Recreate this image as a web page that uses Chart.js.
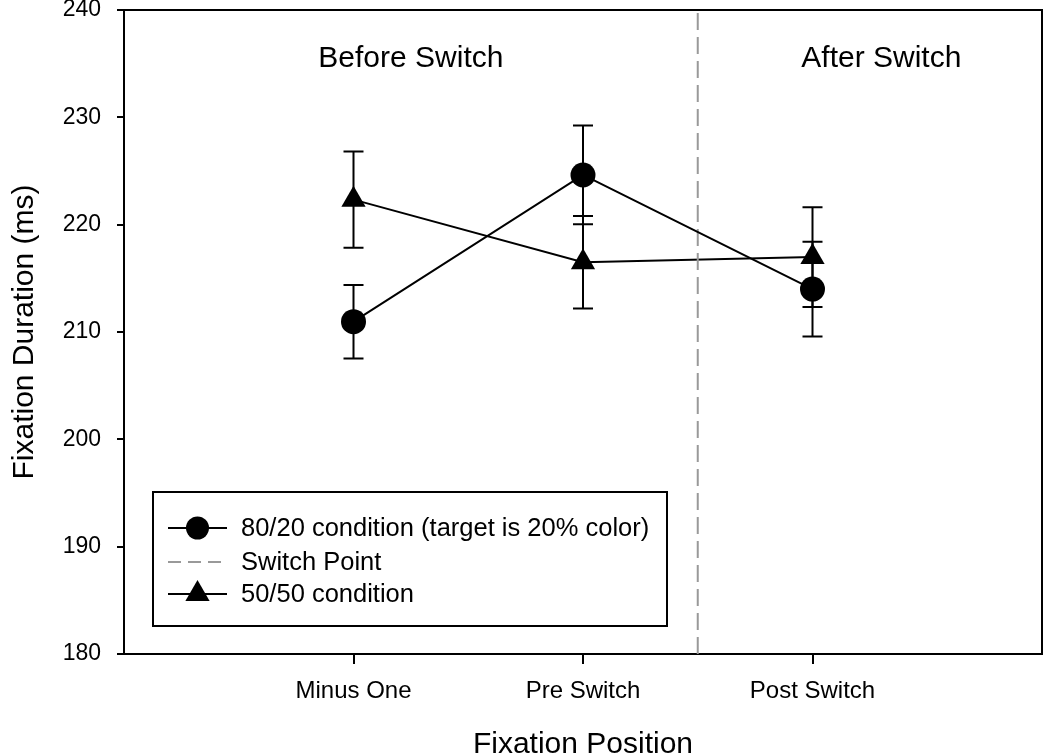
<!DOCTYPE html>
<html>
<head>
<meta charset="utf-8">
<script src="https://cdn.jsdelivr.net/npm/chart.js@4"></script>
<style>
html,body{margin:0;padding:0;background:#fff;}
#c{display:block;}
</style>
</head>
<body>
<canvas id="c" width="1050" height="756"></canvas>
<script>
// ---- data ----
const categories = ["Minus One", "Pre Switch", "Post Switch"];
const categoryX = [1, 2, 3];
const series8020 = [210.96, 224.63, 214.0];
const err8020 = [3.43, 4.6, 4.41];
const series5050 = [222.33, 216.5, 216.98];
const err5050 = [4.48, 4.3, 4.64];
const switchX = 2.5;
const yTicks = [180, 190, 200, 210, 220, 230, 240];
const sectionLabels = ["Before Switch", "After Switch"];
const sectionX = [1.25, 3.3];
const sectionY = 235.5;
const legendLabels = ["80/20 condition (target is 20% color)", "Switch Point", "50/50 condition"];

const FONT = "'Liberation Sans', Arial, Helvetica, sans-serif";

const pts = (ys) => ys.map((v, i) => ({x: categoryX[i], y: v}));

const errorBarPlugin = {
  id: 'errorBars',
  afterDatasetsDraw(chart) {
    const {ctx, scales} = chart;
    const xs = scales.x, ys = scales.y;
    ctx.save();
    ctx.strokeStyle = '#000';
    ctx.lineWidth = 2;
    const cap = 10;
    [[series8020, err8020], [series5050, err5050]].forEach(([vals, errs]) => {
      vals.forEach((v, i) => {
        const px = xs.getPixelForValue(categoryX[i]);
        const top = ys.getPixelForValue(v + errs[i]);
        const bot = ys.getPixelForValue(v - errs[i]);
        ctx.beginPath();
        ctx.moveTo(px, top); ctx.lineTo(px, bot);
        ctx.moveTo(px - cap, top); ctx.lineTo(px + cap, top);
        ctx.moveTo(px - cap, bot); ctx.lineTo(px + cap, bot);
        ctx.stroke();
      });
    });
    ctx.restore();
  }
};

const framePlugin = {
  id: 'frame',
  afterDraw(chart) {
    const {ctx, chartArea: a} = chart;
    ctx.save();
    ctx.strokeStyle = '#000';
    ctx.lineWidth = 2;
    ctx.beginPath();
    ctx.moveTo(a.left, a.top); ctx.lineTo(a.right, a.top); ctx.lineTo(a.right, a.bottom);
    ctx.stroke();
    ctx.restore();
  }
};

const sectionPlugin = {
  id: 'sections',
  afterDraw(chart) {
    const {ctx, scales} = chart;
    ctx.save();
    ctx.fillStyle = '#000';
    ctx.font = "30px " + FONT;
    ctx.textAlign = 'center';
    ctx.textBaseline = 'middle';
    sectionLabels.forEach((t, i) => {
      ctx.fillText(t, scales.x.getPixelForValue(sectionX[i]), scales.y.getPixelForValue(sectionY));
    });
    ctx.restore();
  }
};

const legendPlugin = {
  id: 'boxLegend',
  afterDraw(chart) {
    const {ctx, chartArea: a} = chart;
    const bx = a.left + 29, by = a.bottom - 162, bw = 514, bh = 134;
    ctx.save();
    ctx.fillStyle = '#fff';
    ctx.fillRect(bx, by, bw, bh);
    ctx.strokeStyle = '#000';
    ctx.lineWidth = 2;
    ctx.strokeRect(bx, by, bw, bh);
    const rows = [by + 36, by + 70, by + 102];
    const lx0 = bx + 15, lx1 = bx + 74, mx = (lx0 + lx1) / 2;
    ctx.font = "25.5px " + FONT;
    ctx.textBaseline = 'middle';
    ctx.textAlign = 'left';
    legendLabels.forEach((t, i) => {
      const y = rows[i];
      ctx.beginPath();
      if (i === 1) {
        ctx.strokeStyle = '#999';
        ctx.setLineDash([13, 7]);
      } else {
        ctx.strokeStyle = '#000';
        ctx.setLineDash([]);
      }
      ctx.lineWidth = 2;
      ctx.moveTo(lx0, y); ctx.lineTo(lx1, y);
      ctx.stroke();
      ctx.setLineDash([]);
      ctx.fillStyle = '#000';
      if (i === 0) {
        ctx.beginPath(); ctx.arc(mx, y, 11.5, 0, Math.PI * 2); ctx.fill();
      } else if (i === 2) {
        const r = 14;
        ctx.beginPath();
        ctx.moveTo(mx, y - r);
        ctx.lineTo(mx + r * Math.sin(2 * Math.PI / 3), y + r / 2);
        ctx.lineTo(mx - r * Math.sin(2 * Math.PI / 3), y + r / 2);
        ctx.closePath(); ctx.fill();
      }
      ctx.fillText(t, bx + 88, y + 1);
    });
    ctx.restore();
  }
};

function zeroPad(s) {
  s.paddingTop = 0; s.paddingBottom = 0; s.paddingLeft = 0; s.paddingRight = 0;
}

new Chart(document.getElementById('c'), {
  type: 'line',
  data: {
    datasets: [
      {
        label: legendLabels[0],
        data: pts(series8020),
        borderColor: '#000', backgroundColor: '#000',
        borderWidth: 2, pointStyle: 'circle', pointRadius: 12.5,
        pointBorderWidth: 0, pointHoverRadius: 12.5, tension: 0
      },
      {
        label: legendLabels[1],
        data: [{x: switchX, y: yTicks[0]}, {x: switchX, y: yTicks[yTicks.length - 1]}],
        borderColor: '#999', borderWidth: 2, borderDash: [17, 7],
        pointRadius: 0, pointHoverRadius: 0
      },
      {
        label: legendLabels[2],
        data: pts(series5050),
        borderColor: '#000', backgroundColor: '#000',
        borderWidth: 2, pointStyle: 'triangle', pointRadius: 14,
        pointBorderWidth: 0, pointHoverRadius: 14, tension: 0
      }
    ]
  },
  options: {
    responsive: false,
    animation: false,
    events: [],
    layout: {autoPadding: false, padding: {top: 10, right: 8, left: 0, bottom: 0}},
    plugins: {legend: {display: false}, tooltip: {enabled: false}},
    scales: {
      x: {
        type: 'linear', min: 0, max: 4,
        afterBuildTicks(s) { s.ticks = categoryX.map(v => ({value: v})); },
        afterFit(s) { s.height = 102; zeroPad(s); },
        ticks: {
          callback: (v) => { const i = categoryX.indexOf(v); return i >= 0 ? categories[i] : ''; },
          color: '#000', font: {family: FONT, size: 24}, padding: 13, maxRotation: 0, autoSkip: false
        },
        grid: {drawOnChartArea: false, drawTicks: true, tickLength: 10, color: '#000', lineWidth: 2},
        border: {display: true, color: '#000', width: 2},
        title: {display: true, text: 'Fixation Position', color: '#000', font: {family: FONT, size: 30}, padding: {top: 0, bottom: -7}}
      },
      y: {
        type: 'linear', min: yTicks[0], max: yTicks[yTicks.length - 1],
        afterBuildTicks(s) { s.ticks = yTicks.map(v => ({value: v})); },
        afterFit(s) { s.width = 124; zeroPad(s); },
        ticks: {color: '#000', font: {family: FONT, size: 23}, padding: 16},
        grid: {drawOnChartArea: false, drawTicks: true, tickLength: 7, color: '#000', lineWidth: 2},
        border: {display: true, color: '#000', width: 2},
        title: {display: true, text: 'Fixation Duration (ms)', color: '#000', font: {family: FONT, size: 30}, padding: {top: 7, bottom: 0}}
      }
    }
  },
  plugins: [errorBarPlugin, framePlugin, sectionPlugin, legendPlugin]
});
</script>
</body>
</html>
